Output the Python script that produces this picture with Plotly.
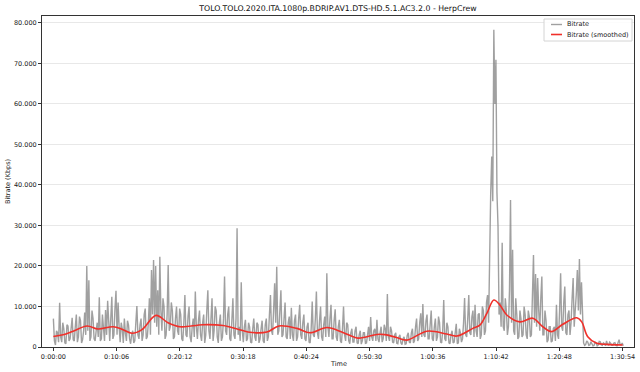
import plotly.graph_objects as go

title_text = "TOLO.TOLO.2020.ITA.1080p.BDRIP.AV1.DTS-HD.5.1.AC3.2.0 - HerpCrew"
x_title = "Time"
y_title = "Bitrate (Kbps)"
series_names = ["Bitrate", "Bitrate (smoothed)"]

# raw bitrate samples (Kbps), one every 10 s
sample_step_s = 10
bitrate_kbps = [
    7000, 1500, 500, 4000, 3500, 1200, 10900, 2500, 1200, 6000, 4500, 1000, 800, 5500, 5200, 1500, 2000, 4500, 7200, 1800,
    1500, 5000, 8000, 1200, 2500, 7500, 6500, 1000, 1800, 4000, 8500, 3000, 20000, 4000, 16500, 1500, 2500, 9000, 7000, 2000,
    1500, 4000, 6000, 2500, 12300, 1500, 2000, 8000, 5000, 1500, 9100, 3000, 11400, 6000, 1500, 7000, 12400, 2000, 3000, 9500,
    13900, 3000, 11000, 5000, 1200, 6000, 4500, 1000, 7000, 3500, 1500, 6500, 5400, 2000, 800, 3000, 4000, 1000, 1500, 6000,
    10100, 3000, 2000, 5500, 7000, 1500, 3000, 8000, 9500, 2000, 2500, 6000, 12000, 3000, 19000, 8000, 21500, 6000, 20000, 5000,
    14000, 3000, 22300, 9000, 4000, 12000, 10000, 2000, 3000, 8000, 20250, 4000, 5000, 11000, 9000, 2000, 2500, 7000, 10000, 4000,
    3000, 9500, 8000, 2000, 1500, 6000, 12800, 3000, 2500, 7500, 10000, 2500, 1200, 5000, 7000, 2500, 13700, 5000, 2000, 6500,
    9000, 3000, 1500, 6000, 8000, 1000, 3000, 9000, 14000, 4000, 2000, 7000, 12000, 1500, 4000, 10000, 9000, 2500, 1000, 6000,
    8000, 1500, 2500, 7000, 17400, 4000, 3000, 8000, 10000, 2000, 1500, 6500, 12000, 3000, 2000, 7000, 29300, 3000, 5000, 1500,
    16000, 4000, 1200, 5000, 6700, 1500, 2000, 6000, 5000, 1200, 1000, 4500, 7000, 2500, 1500, 6000, 5500, 1000, 2000, 4500,
    6500, 1500, 1000, 5500, 7000, 1500, 2500, 8000, 12800, 4000, 3000, 9000, 15700, 6000, 19800, 3000, 4000, 9000, 14000, 2500,
    3000, 7000, 11000, 2500, 2000, 6000, 7500, 2000, 9700, 3000, 1500, 6500, 8000, 1500, 2500, 7000, 10400, 3000, 2000, 6000,
    8000, 2000, 1500, 5000, 6000, 1200, 1000, 4500, 11200, 3000, 2500, 7000, 13700, 3500, 2000, 6500, 10000, 2500, 1500, 5500,
    7500, 2500, 18200, 5000, 2500, 7000, 10400, 2000, 2000, 6500, 9300, 2500, 1500, 5000, 6700, 1500, 1000, 4500, 10000, 3000,
    1500, 6000, 5500, 1500, 800, 3500, 4500, 1200, 1200, 4000, 5000, 1000, 800, 3000, 4000, 700, 1500, 3500, 3500, 900,
    1000, 3000, 5000, 1500, 7400, 2500, 1500, 4000, 4500, 1500, 6700, 2000, 1200, 3500, 5000, 1200, 2000, 5500, 4500, 1500,
    13100, 2500, 1500, 5000, 4000, 1200, 1000, 3000, 3500, 900, 800, 2500, 3000, 1000, 600, 2000, 2500, 700, 800, 2800,
    3500, 1200, 1000, 3500, 4500, 1000, 1500, 5000, 7000, 1500, 2000, 6000, 8300, 2500, 10600, 3000, 2500, 6500, 8000, 2000,
    2000, 5500, 9000, 2000, 1500, 5000, 7000, 1500, 2500, 7500, 6000, 1200, 1000, 4000, 11600, 2000, 1500, 6000, 5000, 1000,
    800, 3000, 4000, 1000, 1200, 3500, 5700, 800, 1000, 4500, 3500, 1200, 2000, 6000, 12100, 3000, 2500, 7000, 12800, 3500,
    3000, 7500, 9000, 2500, 10400, 4000, 2500, 8000, 8300, 2000, 3000, 10000, 9000, 3000, 4000, 11000, 12800, 6000, 27200, 38000,
    47000, 36000, 78300, 60000, 70900, 38000, 30000, 8000, 11000, 5000, 25700, 5000, 4000, 12000, 9000, 3000, 5000, 14000, 36300, 6000,
    24000, 4000, 3000, 12000, 8000, 2000, 2500, 9000, 7000, 2500, 3000, 10000, 8000, 3000, 2000, 9000, 7500, 2500, 3000, 11000,
    22700, 6000, 18000, 5000, 17000, 9000, 4000, 12000, 17400, 3000, 3000, 9000, 6600, 1200, 1700, 5000, 5000, 1200, 1500, 4500,
    5000, 1500, 10400, 3000, 2000, 9000, 18200, 5000, 4000, 11000, 14900, 3500, 3000, 8000, 9000, 3000, 6000, 12000, 17000, 5000,
    8000, 13000, 19000, 9000, 21700, 8000, 16000, 5000, 1000, 400, 600, 1500, 1200, 400, 500, 1300, 900, 300, 400, 1200,
    1000, 300, 500, 1400, 1300, 500, 400, 1000, 800, 300, 1500, 600, 500, 1200, 900, 400, 400, 1000, 1100, 400,
    300, 900, 1800, 600, 500, 1000, 300,
]
bitrate_time_s = [i * sample_step_s for i in range(len(bitrate_kbps))]

# smoothed curve knots
smooth_time_s = [0, 93, 189, 323, 428, 572, 658, 753, 849, 983, 1098, 1213,
                 1433, 1625, 1768, 1864, 2046, 2161, 2333, 2458, 2621, 2774,
                 2917, 3099, 3176, 3281, 3387, 3578, 3770, 3866, 4019, 4086,
                 4153, 4220, 4277, 4344, 4469, 4593, 4689, 4775, 4881, 5014,
                 5062, 5120, 5206, 5302, 5454]
smooth_kbps = [2600, 3000, 3900, 5200, 4450, 5000, 4400, 3400, 4300, 7800, 6000, 5000,
               5500, 5300, 4400, 3700, 3700, 5200, 4600, 3500, 4800, 3600,
               2200, 3100, 3050, 2400, 1700, 3900, 3200, 2700, 4600, 5400,
               8300, 11600, 10400, 7900, 6200, 7100, 5000, 3800, 5600, 7200,
               6200, 2550, 900, 650, 500]

x_tick_seconds = [0, 606, 1212, 1818, 2424, 3030, 3636, 4242, 4848, 5454]
x_tick_labels = ["0:00:00", "0:10:06", "0:20:12", "0:30:18", "0:40:24",
                 "0:50:30", "1:00:36", "1:10:42", "1:20:48", "1:30:54"]
y_tick_values = [0, 10000, 20000, 30000, 40000, 50000, 60000, 70000, 80000]

raw_color = "rgba(128,128,128,0.75)"
smooth_color = "#f0302a"

fig = go.Figure()
fig.add_trace(go.Scatter(
    x=bitrate_time_s, y=bitrate_kbps, mode="lines", name=series_names[0],
    line=dict(color=raw_color, width=1.4), showlegend=False,
))
fig.add_trace(go.Scatter(
    x=smooth_time_s, y=smooth_kbps, mode="lines", name=series_names[1],
    line=dict(color=smooth_color, width=1.6, shape="spline", smoothing=1.0),
    showlegend=False,
))

font_family = "DejaVu Sans"
W, H = 640, 372
L, R, T, B = 42, 6, 16, 25
pw, ph = W - L - R, H - T - B


def px_x(px):
    return (px - L) / pw


def px_y(py):
    return (H - B - py) / ph


shapes = [
    dict(type="rect", xref="paper", yref="paper", x0=px_x(544), x1=px_x(632),
         y0=px_y(41), y1=px_y(19), line=dict(color="#d4d4d4", width=1),
         fillcolor="rgba(255,255,255,0.85)", layer="above"),
    dict(type="line", xref="paper", yref="paper", x0=px_x(551), x1=px_x(562),
         y0=px_y(24.5), y1=px_y(24.5), line=dict(color=raw_color, width=1.4), layer="above"),
    dict(type="line", xref="paper", yref="paper", x0=px_x(551), x1=px_x(562),
         y0=px_y(34.5), y1=px_y(34.5), line=dict(color=smooth_color, width=1.6), layer="above"),
]
annotations = [
    dict(text=series_names[0], xref="paper", yref="paper", x=px_x(565), y=px_y(24.5),
         xanchor="left", yanchor="middle", showarrow=False, font=dict(size=6.5, color="#222")),
    dict(text=series_names[1], xref="paper", yref="paper", x=px_x(565), y=px_y(34.5),
         xanchor="left", yanchor="middle", showarrow=False, font=dict(size=6.5, color="#222")),
    dict(text=x_title, xref="paper", yref="paper", x=0.5, y=px_y(363.5),
         xanchor="center", yanchor="middle", showarrow=False, font=dict(size=6.5, color="#222")),
    dict(text=y_title, xref="paper", yref="paper", x=px_x(7.5), y=0.5, textangle=-90,
         xanchor="center", yanchor="middle", showarrow=False, font=dict(size=6.5, color="#222")),
]

fig.update_layout(
    width=W, height=H,
    margin=dict(l=L, r=R, t=T, b=B, autoexpand=False),
    paper_bgcolor="white", plot_bgcolor="white",
    separators=",.",
    font=dict(family=font_family, size=6.5, color="#222"),
    title=dict(text=title_text, x=338 / W, xanchor="center", y=1 - 8 / H, yanchor="middle",
               font=dict(size=7.8, color="#111")),
    showlegend=False,
    shapes=shapes,
    annotations=annotations,
)
fig.update_xaxes(
    range=[-109, 5563], tickvals=x_tick_seconds, ticktext=x_tick_labels,
    showgrid=False, zeroline=False, showline=True, linecolor="#333", linewidth=1,
    mirror=True, ticks="outside", ticklen=3, tickcolor="#333", automargin=False,
    tickfont=dict(size=6.5),
)
fig.update_yaxes(
    range=[0, 81700], tickvals=y_tick_values, tickformat=",d",
    showgrid=True, gridcolor="#e8e8e8", gridwidth=1, zeroline=False,
    showline=True, linecolor="#333", linewidth=1, mirror=True,
    ticks="outside", ticklen=3, tickcolor="#333", automargin=False,
    tickfont=dict(size=6.5),
)

fig.write_html(
    "out.html",
    config={"displayModeBar": False},
    post_script="document.body.style.margin='0';document.body.style.overflow='hidden';",
)
